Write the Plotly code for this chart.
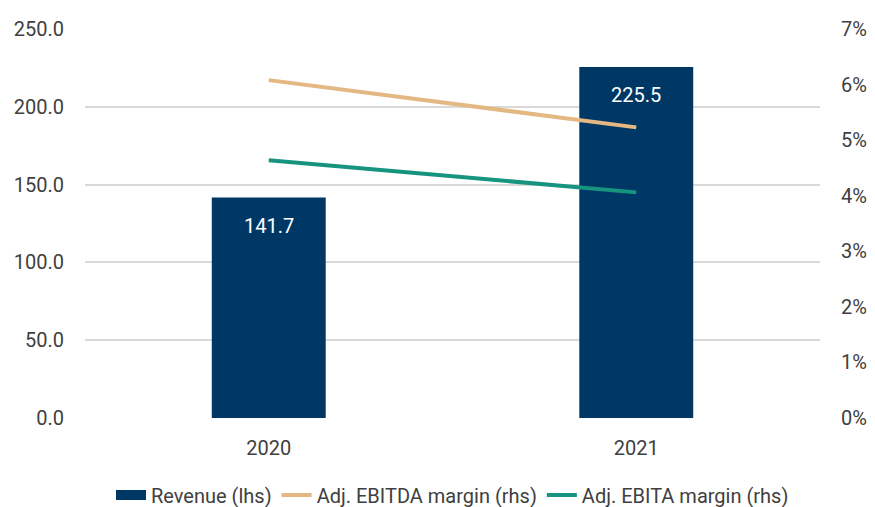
import plotly.graph_objects as go

years = ["2020", "2021"]
revenue = [141.7, 225.5]
ebitda_margin = [6.08, 5.23]
ebita_margin = [4.64, 4.06]
left_ticks = [0, 50, 100, 150, 200, 250]
right_ticks = [0, 1, 2, 3, 4, 5, 6, 7]

FONT = "Roboto"
NAVY = "#003865"

fig = go.Figure()
fig.add_trace(go.Bar(
    x=years, y=revenue, name="Revenue (lhs)",
    marker=dict(color=NAVY, line=dict(width=0)),
    width=0.31, showlegend=False,
))
# legend entry for the revenue bars (wide swatch like the reference)
fig.add_trace(go.Scatter(
    x=[years[0]], y=[None], name="Revenue (lhs)", mode="lines",
    line=dict(color=NAVY, width=10), showlegend=True, hoverinfo="skip",
))
fig.add_trace(go.Scatter(
    x=years, y=ebitda_margin, name="Adj. EBITDA margin (rhs)",
    mode="lines", line=dict(color="#E4B883", width=4),
    yaxis="y2",
))
fig.add_trace(go.Scatter(
    x=years, y=ebita_margin, name="Adj. EBITA margin (rhs)",
    mode="lines", line=dict(color="#17947F", width=4),
    yaxis="y2",
))

for i, v in enumerate(revenue):
    fig.add_annotation(x=i, y=v, xref="x", yref="y", text=f"{v:.1f}",
                       showarrow=False, yanchor="middle", yshift=-28,
                       font=dict(color="white", size=20, family=FONT))

fig.update_layout(
    width=875, height=507,
    margin=dict(l=85, r=55, t=29, b=89, autoexpand=False),
    plot_bgcolor="white", paper_bgcolor="white",
    font=dict(family=FONT, size=20, color="#404040"),
    showlegend=True,
    legend=dict(orientation="h", x=0.5, xanchor="center", y=-0.198, yanchor="middle",
                font=dict(size=20, color="#404040"),
                traceorder="normal", itemwidth=30),
    xaxis=dict(type="category", range=[-0.5, 1.5], showgrid=False, showline=False,
               ticks="", automargin=False, ticklabelstandoff=16),
    yaxis=dict(range=[0, 250], tickvals=left_ticks,
               ticktext=[f"{v:.1f}" for v in left_ticks],
               showgrid=True, gridcolor="#d9d9d9", gridwidth=1.5, automargin=False,
               zeroline=False, showline=False, ticks="", ticklabelstandoff=20),
    yaxis2=dict(range=[0, 7], tickvals=right_ticks,
                ticktext=[f"{v}%" for v in right_ticks], automargin=False,
                overlaying="y", side="right", showgrid=False, zeroline=False,
                showline=False, ticks="", ticklabelstandoff=20),
)

fig.write_html("out.html")
